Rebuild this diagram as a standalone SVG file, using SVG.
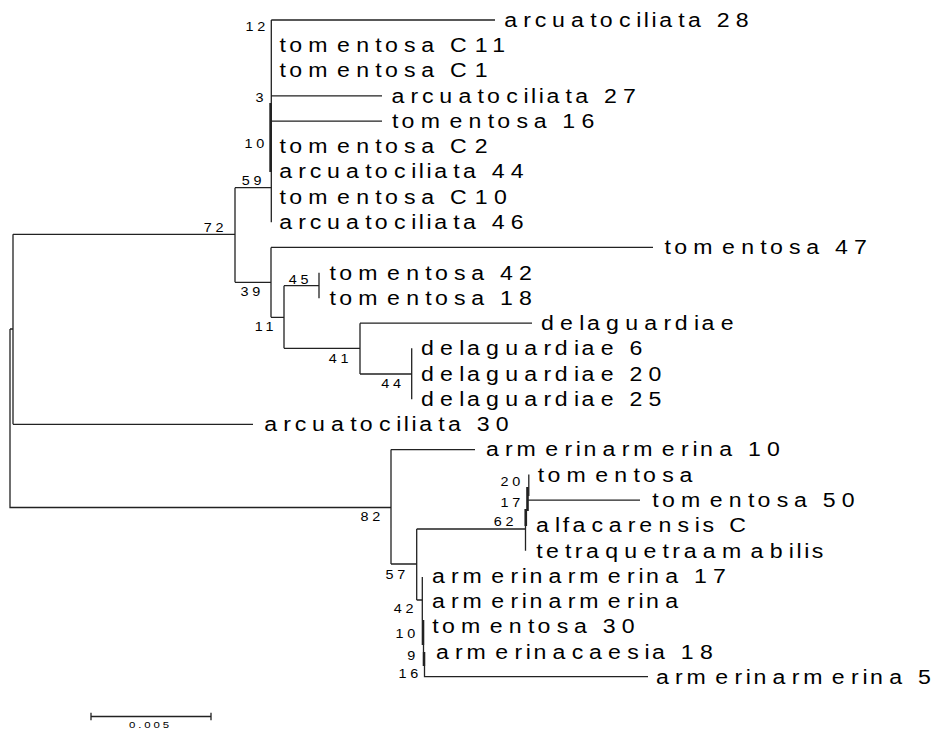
<svg xmlns="http://www.w3.org/2000/svg" width="937" height="730" viewBox="0 0 937 730">
<style>
.lf{font-family:"Liberation Sans",Arial,sans-serif;font-size:21px;fill:#000}
.bs{font-family:"Liberation Sans",Arial,sans-serif;font-size:12px;fill:#000}
.br{stroke:#222;stroke-width:1.3;fill:none;stroke-linecap:butt}
.thk{stroke:#222;stroke-width:2.6;fill:none}
</style>
<rect width="937" height="730" fill="#fff"/>
<g id="connectors">
<path class="br" d="M10 329H13M10 329V507.5H391M13 234.3V424.3M13 234.3H235M13 424.3H253"/>
<path class="br" d="M235 187.7V282.3M235 187.7H271.3M235 282.3H271"/>
<path class="br" d="M271.3 20V222.2M271.3 20H495M271.3 95.8H382M271.3 121.1H382"/>
<path class="thk" d="M270.6 103V172"/>
<path class="br" d="M271 247.4V317.3M271 247.4H653M271 317.3H284M284 285.7V348.3M284 285.7H319M319 272.7V298.3M284 348.3H360M360 323.2V374M360 323.2H532M360 374H411.7M411.7 348.3V399.3"/>
<path class="br" d="M391 449.6V564M391 449.6H475M391 564H416.7M416.7 529V600M416.7 529H525.5M416.7 600H422.3"/>
<path class="br" d="M528.8 474.5V496M527 500.1H640M525.5 509V550.7"/>
<path class="thk" d="M527.5 487V511M525.8 509V526"/>
<path class="br" d="M422.3 577V620M423.5 645V652M424.5 666V676.7H648"/>
<path class="thk" d="M423 620V645M424 652V666"/>
<path class="br" d="M91 716.5H211M91 712.8V720.3M211 712.8V720.3"/>
</g>
<g id="leaf-arcuatociliata-28"><text class="lf" transform="translate(504.2 26.8) scale(1.1 1)" dx="0 5.7 3.4 5.15 5.7 5.7 2.9 5.7 5.15 2.3 2.3 2.3 5.7 2.9 5.7 2.9 5.7">arcuatociliata 28</text></g>
<g id="leaf-tomentosa-C11"><text class="lf" transform="translate(279.6 52.1) scale(1.1 1)" dx="0 2.9 5.7 8.6 5.7 5.7 2.9 5.7 5.15 5.7 2.9 7.4 5.7">tomentosa C11</text></g>
<g id="leaf-tomentosa-C1"><text class="lf" transform="translate(279.6 77.3) scale(1.1 1)" dx="0 2.9 5.7 8.6 5.7 5.7 2.9 5.7 5.15 5.7 2.9 7.4">tomentosa C1</text></g>
<g id="leaf-arcuatociliata-27"><text class="lf" transform="translate(391.5 102.6) scale(1.1 1)" dx="0 5.7 3.4 5.15 5.7 5.7 2.9 5.7 5.15 2.3 2.3 2.3 5.7 2.9 5.7 2.9 5.7">arcuatociliata 27</text></g>
<g id="leaf-tomentosa-16"><text class="lf" transform="translate(392 127.9) scale(1.1 1)" dx="0 2.9 5.7 8.6 5.7 5.7 2.9 5.7 5.15 5.7 2.9 5.7">tomentosa 16</text></g>
<g id="leaf-tomentosa-C2"><text class="lf" transform="translate(279.6 153.2) scale(1.1 1)" dx="0 2.9 5.7 8.6 5.7 5.7 2.9 5.7 5.15 5.7 2.9 7.4">tomentosa C2</text></g>
<g id="leaf-arcuatociliata-44"><text class="lf" transform="translate(279.2 178.4) scale(1.1 1)" dx="0 5.7 3.4 5.15 5.7 5.7 2.9 5.7 5.15 2.3 2.3 2.3 5.7 2.9 5.7 2.9 5.7">arcuatociliata 44</text></g>
<g id="leaf-tomentosa-C10"><text class="lf" transform="translate(279.6 203.7) scale(1.1 1)" dx="0 2.9 5.7 8.6 5.7 5.7 2.9 5.7 5.15 5.7 2.9 7.4 5.7">tomentosa C10</text></g>
<g id="leaf-arcuatociliata-46"><text class="lf" transform="translate(279.2 229) scale(1.1 1)" dx="0 5.7 3.4 5.15 5.7 5.7 2.9 5.7 5.15 2.3 2.3 2.3 5.7 2.9 5.7 2.9 5.7">arcuatociliata 46</text></g>
<g id="leaf-tomentosa-47"><text class="lf" transform="translate(664.6 254.2) scale(1.1 1)" dx="0 2.9 5.7 8.6 5.7 5.7 2.9 5.7 5.15 5.7 2.9 5.7">tomentosa 47</text></g>
<g id="leaf-tomentosa-42"><text class="lf" transform="translate(329.6 279.5) scale(1.1 1)" dx="0 2.9 5.7 8.6 5.7 5.7 2.9 5.7 5.15 5.7 2.9 5.7">tomentosa 42</text></g>
<g id="leaf-tomentosa-18"><text class="lf" transform="translate(329.6 304.8) scale(1.1 1)" dx="0 2.9 5.7 8.6 5.7 5.7 2.9 5.7 5.15 5.7 2.9 5.7">tomentosa 18</text></g>
<g id="leaf-delaguardiae"><text class="lf" transform="translate(541 330) scale(1.1 1)" dx="0 5.7 5.7 2.3 5.7 5.7 5.7 5.7 3.4 5.7 2.3 5.7">delaguardiae</text></g>
<g id="leaf-delaguardiae-6"><text class="lf" transform="translate(421 355.3) scale(1.1 1)" dx="0 5.7 5.7 2.3 5.7 5.7 5.7 5.7 3.4 5.7 2.3 5.7 5.7 2.9">delaguardiae 6</text></g>
<g id="leaf-delaguardiae-20"><text class="lf" transform="translate(421 380.6) scale(1.1 1)" dx="0 5.7 5.7 2.3 5.7 5.7 5.7 5.7 3.4 5.7 2.3 5.7 5.7 2.9 5.7">delaguardiae 20</text></g>
<g id="leaf-delaguardiae-25"><text class="lf" transform="translate(421 405.9) scale(1.1 1)" dx="0 5.7 5.7 2.3 5.7 5.7 5.7 5.7 3.4 5.7 2.3 5.7 5.7 2.9 5.7">delaguardiae 25</text></g>
<g id="leaf-arcuatociliata-30"><text class="lf" transform="translate(264.2 431.1) scale(1.1 1)" dx="0 5.7 3.4 5.15 5.7 5.7 2.9 5.7 5.15 2.3 2.3 2.3 5.7 2.9 5.7 2.9 5.7">arcuatociliata 30</text></g>
<g id="leaf-armerinarmerina-10"><text class="lf" transform="translate(486 456.4) scale(1.1 1)" dx="0 5.7 3.4 8.6 5.7 3.4 2.3 5.7 5.7 3.4 8.6 5.7 3.4 2.3 5.7 5.7 2.9 5.7">armerinarmerina 10</text></g>
<g id="leaf-tomentosa"><text class="lf" transform="translate(537.8 481.7) scale(1.1 1)" dx="0 2.9 5.7 8.6 5.7 5.7 2.9 5.7 5.15">tomentosa</text></g>
<g id="leaf-tomentosa-50"><text class="lf" transform="translate(652.3 506.9) scale(1.1 1)" dx="0 2.9 5.7 8.6 5.7 5.7 2.9 5.7 5.15 5.7 2.9 5.7">tomentosa 50</text></g>
<g id="leaf-alfacarensis-C"><text class="lf" transform="translate(536 532.2) scale(1.1 1)" dx="0 5.7 2.3 2.9 5.7 5.15 5.7 3.4 5.7 5.7 5.15 2.3 5.15 2.9">alfacarensis C</text></g>
<g id="leaf-tetraquetraamabilis"><text class="lf" transform="translate(536.3 557.5) scale(1.1 1)" dx="0 2.9 5.7 2.9 3.4 5.7 5.7 5.7 5.7 2.9 3.4 5.7 5.7 8.6 5.7 5.7 2.3 2.3 2.3">tetraquetraamabilis</text></g>
<g id="leaf-armerinarmerina-17"><text class="lf" transform="translate(432 582.8) scale(1.1 1)" dx="0 5.7 3.4 8.6 5.7 3.4 2.3 5.7 5.7 3.4 8.6 5.7 3.4 2.3 5.7 5.7 2.9 5.7">armerinarmerina 17</text></g>
<g id="leaf-armerinarmerina"><text class="lf" transform="translate(432 608) scale(1.1 1)" dx="0 5.7 3.4 8.6 5.7 3.4 2.3 5.7 5.7 3.4 8.6 5.7 3.4 2.3 5.7">armerinarmerina</text></g>
<g id="leaf-tomentosa-30"><text class="lf" transform="translate(432.3 633.3) scale(1.1 1)" dx="0 2.9 5.7 8.6 5.7 5.7 2.9 5.7 5.15 5.7 2.9 5.7">tomentosa 30</text></g>
<g id="leaf-armerinacaesia-18"><text class="lf" transform="translate(436 658.6) scale(1.1 1)" dx="0 5.7 3.4 8.6 5.7 3.4 2.3 5.7 5.7 5.15 5.7 5.7 5.15 2.3 5.7 2.9 5.7">armerinacaesia 18</text></g>
<g id="leaf-armerinarmerina-5"><text class="lf" transform="translate(656 683.8) scale(1.1 1)" dx="0 5.7 3.4 8.6 5.7 3.4 2.3 5.7 5.7 3.4 8.6 5.7 3.4 2.3 5.7 5.7 2.9">armerinarmerina 5</text></g>
<g id="node-12"><text class="bs" text-anchor="end" transform="translate(265.3 30.5) scale(1.2 1)" dx="0 3.2">12</text></g>
<g id="node-3"><text class="bs" text-anchor="end" transform="translate(263.6 101.5) scale(1.2 1)">3</text></g>
<g id="node-10a"><text class="bs" text-anchor="end" transform="translate(264.3 147.5) scale(1.2 1)" dx="0 3.2">10</text></g>
<g id="node-59"><text class="bs" text-anchor="end" transform="translate(261.5 184.5) scale(1.2 1)" dx="0 3.2">59</text></g>
<g id="node-72"><text class="bs" text-anchor="end" transform="translate(223.6 231.5) scale(1.2 1)" dx="0 3.2">72</text></g>
<g id="node-39"><text class="bs" text-anchor="end" transform="translate(260.3 296) scale(1.2 1)" dx="0 3.2">39</text></g>
<g id="node-45"><text class="bs" text-anchor="end" transform="translate(308.6 283.5) scale(1.2 1)" dx="0 3.2">45</text></g>
<g id="node-11"><text class="bs" text-anchor="end" transform="translate(273.5 330.5) scale(1.2 1)" dx="0 3.2">11</text></g>
<g id="node-41"><text class="bs" text-anchor="end" transform="translate(348.5 362.5) scale(1.2 1)" dx="0 3.2">41</text></g>
<g id="node-44"><text class="bs" text-anchor="end" transform="translate(401 388) scale(1.2 1)" dx="0 3.2">44</text></g>
<g id="node-82"><text class="bs" text-anchor="end" transform="translate(380.3 520.5) scale(1.2 1)" dx="0 3.2">82</text></g>
<g id="node-57"><text class="bs" text-anchor="end" transform="translate(405.3 579) scale(1.2 1)" dx="0 3.2">57</text></g>
<g id="node-62"><text class="bs" text-anchor="end" transform="translate(513.6 526) scale(1.2 1)" dx="0 3.2">62</text></g>
<g id="node-20"><text class="bs" text-anchor="end" transform="translate(520.3 486) scale(1.2 1)" dx="0 3.2">20</text></g>
<g id="node-17"><text class="bs" text-anchor="end" transform="translate(520.3 507) scale(1.2 1)" dx="0 3.2">17</text></g>
<g id="node-42"><text class="bs" text-anchor="end" transform="translate(413.6 613) scale(1.2 1)" dx="0 3.2">42</text></g>
<g id="node-10b"><text class="bs" text-anchor="end" transform="translate(415.3 638) scale(1.2 1)" dx="0 3.2">10</text></g>
<g id="node-9"><text class="bs" text-anchor="end" transform="translate(415.3 660) scale(1.2 1)">9</text></g>
<g id="node-16"><text class="bs" text-anchor="end" transform="translate(418.3 677.5) scale(1.2 1)" dx="0 3.2">16</text></g>
<g id="scale-bar"><text class="bs" style="font-size:9.5px" transform="translate(129 728.3) scale(1.2 1)" dx="0 2.4 2.4 2.4 2.4">0.005</text></g>
</svg>
